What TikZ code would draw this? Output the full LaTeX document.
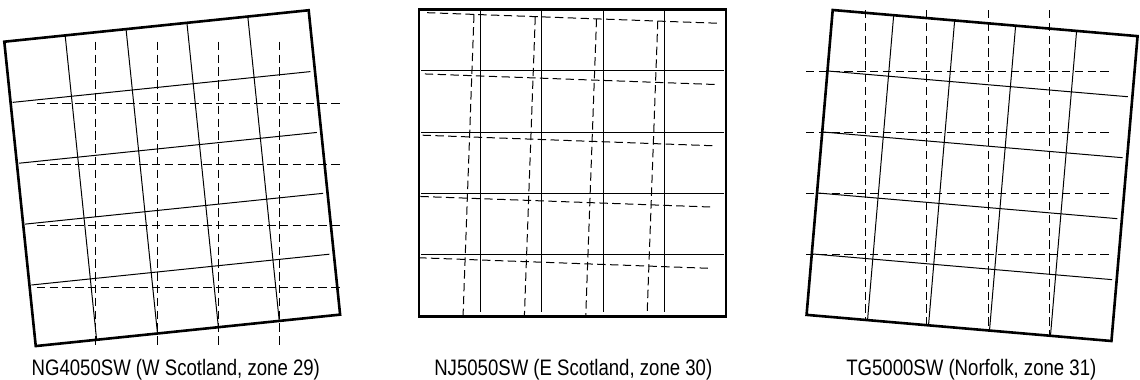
\documentclass[tikz,border=0pt]{standalone}
\usepackage{fontspec}
\setmainfont{Liberation Sans}[FakeStretch=0.83]
\usepackage{tikz}
\usetikzlibrary{calc}

\tikzset{
  sheet/.style={line width=1.3pt},
  osgrid/.style={line width=0.5pt},
  zonegrid/.style={line width=0.5pt,dash pattern=on 4.2pt off 2.2pt},
  caption/.style={anchor=base,inner sep=0pt,font=\fontsize{11.2}{13}\selectfont}
}

\begin{document}
\begin{tikzpicture}[x=0.5pt,y=-0.5pt]
  \useasboundingbox (0,0) rectangle (1140,380);
  % W Scotland: sheet turned against the zone 30 grid
  \begin{scope}[shift={(4.3,41.7)},rotate=5.9]
    \draw[sheet] (0,0) rectangle (306,306);
    \foreach \k in {1,...,4}{
      \draw[osgrid] (61.2*\k,0) -- (61.2*\k,306);
      \draw[osgrid] (2,61.2*\k) -- (301.5,61.2*\k);}
  \end{scope}
  \foreach \k in {0,...,3}{
    \draw[zonegrid] (95.7+61.3*\k,41.7) -- (95.7+61.3*\k,345.5);
    \draw[zonegrid] (36.7,103.3+61.3*\k) -- (340,103.3+61.3*\k);}
  \node[caption] (capW) at (175.8,375) {NG4050SW (W Scotland, zone 29)};

  % E Scotland: sheet square, grid slightly turned
  \draw[sheet] (419,9.3) rectangle (726,316.7);
  \foreach \k in {1,...,4}{
    \draw[osgrid] (419+61.4*\k,9.3) -- (419+61.4*\k,312.3);
    \draw[osgrid] (421,9.3+61.4*\k) -- (724,9.3+61.4*\k);}
  \begin{scope}
    \clip (419,0) rectangle (726,315);
    \begin{scope}[shift={(474,14.4)},rotate=-2.08]
      \foreach \k in {0,...,3}{\draw[zonegrid] (61.3*\k,0) -- (61.3*\k,310);}
      \foreach \k in {0,...,4}{\draw[zonegrid] (-47,61.3*\k) -- (244.5,61.3*\k);}
    \end{scope}
  \end{scope}
  \node[caption] (capE) at (573.3,375) {NJ5050SW (E Scotland, zone 30)};

  % Norfolk: sheet turned the other way
  \begin{scope}[shift={(832.7,10)},rotate=-4.9]
    \draw[sheet] (0,0) rectangle (306,306);
    \foreach \k in {1,...,4}{
      \draw[osgrid] (61.2*\k,0) -- (61.2*\k,306);
      \draw[osgrid] (0,61.2*\k) -- (301.5,61.2*\k);}
  \end{scope}
  \foreach \x/\yb in {865.3/319.5,926.7/324.7,988/330,1049.3/335.2}
    \draw[zonegrid] (\x,10) -- (\x,\yb);
  \foreach \k in {0,...,3}
    \draw[zonegrid] (806,71+61.3*\k) -- (1110,71+61.3*\k);
  \node[caption] (capN) at (971.3,375) {TG5000SW (Norfolk, zone 31)};
\end{tikzpicture}
\end{document}
